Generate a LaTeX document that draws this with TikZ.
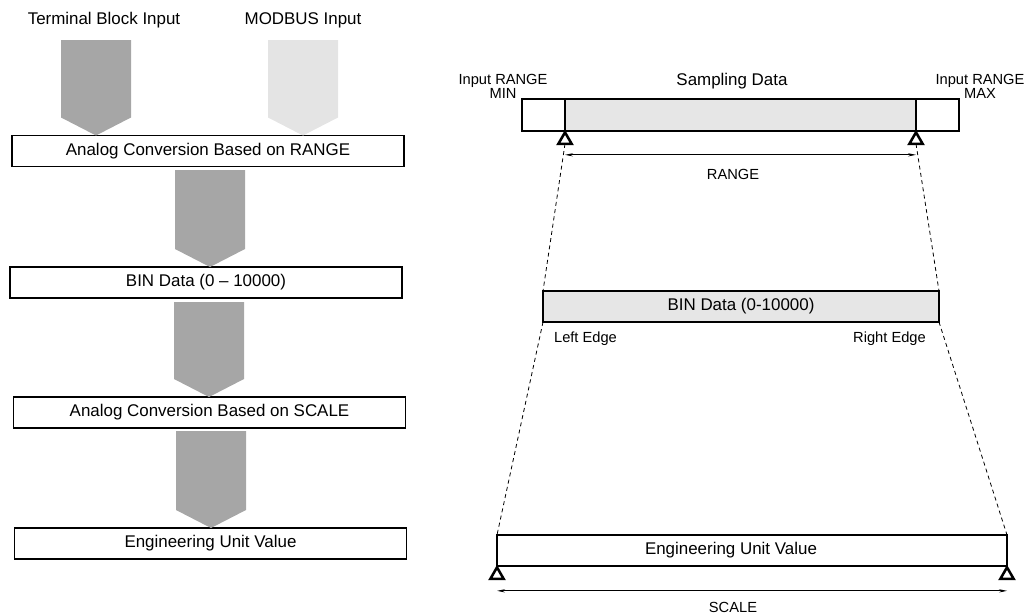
\documentclass[tikz,border=0pt]{standalone}
\usepackage{fontspec}
\setmainfont{Liberation Sans}
\usetikzlibrary{positioning,calc,arrows.meta,shapes.geometric}
\definecolor{cDark} {RGB}{166,166,166}
\definecolor{cLight}{RGB}{228,228,228}
\definecolor{cBar}  {RGB}{230,230,230}
\newcommand{\bigtxt}{\fontsize{12.7pt}{15pt}\selectfont}
\newcommand{\smalltxt}{\fontsize{11pt}{9.75pt}\selectfont}

\begin{document}
\begin{tikzpicture}[x=0.75pt,y=-0.75pt]

%% ── shared styles ─────────────────────────────────────────────────────────
\tikzset{
  cbox/.style={
    rectangle, draw=black, fill=#1, line width=1.2pt,
    minimum height=23.25pt, inner sep=0pt, outer sep=0pt, font=\bigtxt
  },
  txt/.style ={inner sep=0pt, font=\bigtxt},
  stxt/.style={inner sep=0pt, font=\smalltxt},
  flow/.style={fill=#1},
  pivot/.style={
    regular polygon, regular polygon sides=3, draw=black, fill=white,
    line width=1.9pt, minimum size=11.5pt, inner sep=0pt, outer sep=0pt
  },
  dim/.style ={{Stealth[length=6pt,width=2.4pt]}-{Stealth[length=6pt,width=2.4pt]},
               line width=0.6pt},
  proj/.style={line width=0.6pt, dash pattern=on 3pt off 2.5pt},
}

\useasboundingbox (0,0) rectangle (1027,615);

%% ── arrow geometry ────────────────────────────────────────────────────────
\def\hw{35}
\def\tip{18}

%% ══════════════════════════════════════════════════════════════════════════
%% LEFT  –  conversion flow
%% ══════════════════════════════════════════════════════════════════════════
\node[txt] (tbin) at (104,20) {Terminal Block Input};
\node[txt] (mbin) at (303,20) {MODBUS Input};

\node[cbox=white, minimum width=294pt] (conv1) at (208,151)   {Analog Conversion Based on RANGE};
\node[cbox=white, minimum width=294pt] (bin)   at (206,282.5) {BIN Data (0 -- 10000)};
\node[cbox=white, minimum width=294pt] (conv2) at (209.5,412.5) {Analog Conversion Based on SCALE};
\node[cbox=white, minimum width=294pt] (euv)   at (210.5,543.5) {Engineering Unit Value};

\coordinate (a1) at (96,40);
\coordinate (a2) at (303,40);
\coordinate (a3) at (210,170);
\coordinate (a4) at (209,302);
\coordinate (a5) at (211,431);

\fill[flow=cDark] ($(a1)+(-\hw,0)$) -- ($(a1)+(\hw,0)$)
  -- ($(a1 |- conv1.north)+(\hw,-\tip)$) -- (a1 |- conv1.north)
  -- ($(a1 |- conv1.north)+(-\hw,-\tip)$) -- cycle;
\fill[flow=cLight] ($(a2)+(-\hw,0)$) -- ($(a2)+(\hw,0)$)
  -- ($(a2 |- conv1.north)+(\hw,-\tip)$) -- (a2 |- conv1.north)
  -- ($(a2 |- conv1.north)+(-\hw,-\tip)$) -- cycle;
\fill[flow=cDark] ($(a3)+(-\hw,0)$) -- ($(a3)+(\hw,0)$)
  -- ($(a3 |- bin.north)+(\hw,-\tip)$) -- (a3 |- bin.north)
  -- ($(a3 |- bin.north)+(-\hw,-\tip)$) -- cycle;
\fill[flow=cDark] ($(a4)+(-\hw,0)$) -- ($(a4)+(\hw,0)$)
  -- ($(a4 |- conv2.north)+(\hw,-\tip)$) -- (a4 |- conv2.north)
  -- ($(a4 |- conv2.north)+(-\hw,-\tip)$) -- cycle;
\fill[flow=cDark] ($(a5)+(-\hw,0)$) -- ($(a5)+(\hw,0)$)
  -- ($(a5 |- euv.north)+(\hw,-\tip)$) -- (a5 |- euv.north)
  -- ($(a5 |- euv.north)+(-\hw,-\tip)$) -- cycle;

%% ══════════════════════════════════════════════════════════════════════════
%% RIGHT  –  range / scale mapping
%% ══════════════════════════════════════════════════════════════════════════
\node[cbox=white, minimum width=327.75pt, minimum height=24pt] (samp)   at (740.5,115) {};
\node[cbox=cBar,  minimum width=263.25pt, minimum height=24pt] (sampin) at (740.5,115) {};
\node[txt] (sdata) at (732,81) {Sampling Data};
\node[stxt, align=center] (rmin) at (503,86.5) {Input RANGE\\MIN};
\node[stxt, align=center] (rmax) at (980,86.5) {Input RANGE\\MAX};

\node[pivot, anchor=corner 1] (tmin) at ([yshift=-1pt]sampin.south west) {};
\node[pivot, anchor=corner 1] (tmax) at ([yshift=-1pt]sampin.south east) {};
\draw[dim] ($(tmin.south)+(0,11)$) -- ($(tmax.south)+(0,11)$);
\node[stxt] (rng) at (733,174) {RANGE};

\node[cbox=cBar, minimum width=297pt] (binr) at (741,306.5) {BIN Data (0-10000)};
\node[stxt] (ledge) at (585.5,339) {Left Edge};
\node[stxt] (redge) at (889.5,339) {Right Edge};

\node[cbox=white, minimum width=382.5pt] (euvr) at (752,550.5) {};
\node[txt] (euvt) at (731,550.5) {Engineering Unit Value};
\node[pivot, anchor=corner 1] (tlo) at ([yshift=-1pt]euvr.south west) {};
\node[pivot, anchor=corner 1] (thi) at ([yshift=-1pt]euvr.south east) {};
\draw[dim] ($(tlo.south)+(0,12)$) -- ($(thi.south)+(0,12)$);
\node[stxt] (scl) at (733,607) {SCALE};

% projection lines
\draw[proj] (tmin.south)      -- (binr.north west);
\draw[proj] (tmax.south)      -- (binr.north east);
\draw[proj] (binr.south west) -- (euvr.north west);
\draw[proj] (binr.south east) -- (euvr.north east);

\end{tikzpicture}
\end{document}
